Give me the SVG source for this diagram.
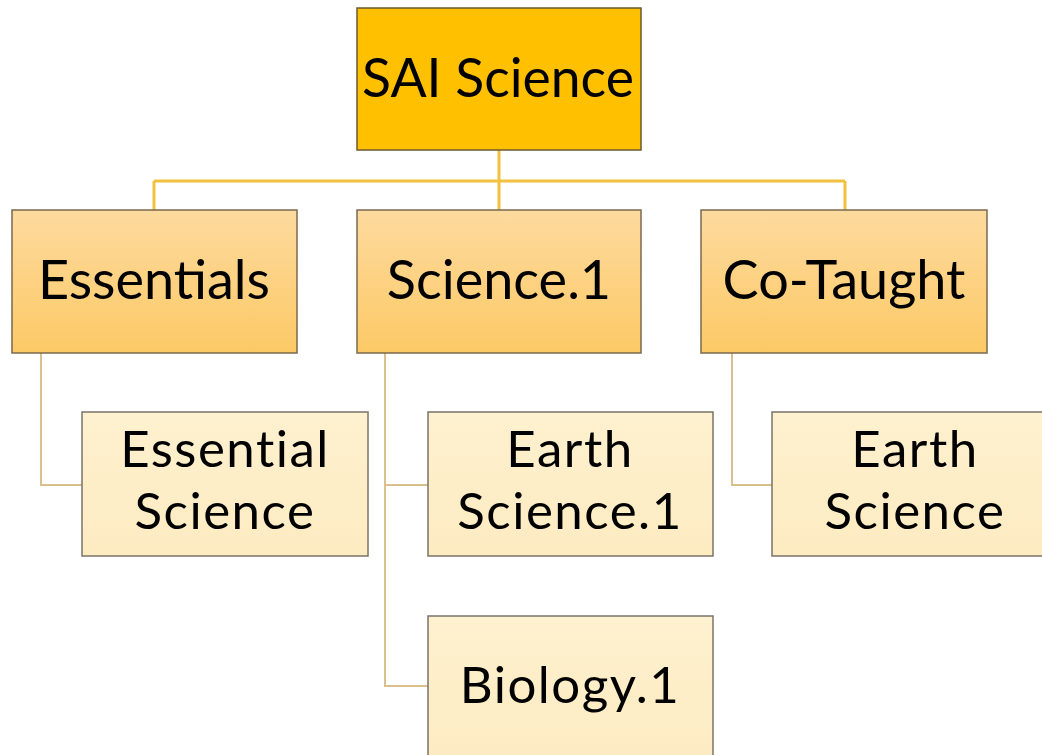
<svg xmlns="http://www.w3.org/2000/svg" width="1042" height="755" viewBox="0 0 1042 755">
<defs>
<linearGradient id="g1" x1="0" y1="0" x2="0" y2="1">
<stop offset="0" stop-color="#FDDA9E"/>
<stop offset="1" stop-color="#FCC965"/>
</linearGradient>
<linearGradient id="g2" x1="0" y1="0" x2="0" y2="1">
<stop offset="0" stop-color="#FEF1CF"/>
<stop offset="1" stop-color="#FDEBC1"/>
</linearGradient>
</defs>
<style>
.root{fill:#FFC000;stroke:#6B5A2E;stroke-width:1.5}
.l1{fill:url(#g1);stroke:#7A6A50;stroke-width:1.5}
.l2{fill:url(#g2);stroke:#7A7468;stroke-width:1.5}
text{font-family:Lato,"Open Sans",sans-serif;fill:#000;text-anchor:middle}
.t0{font-size:53.5px}
.t1{font-size:54px}
.t2{font-size:51px;letter-spacing:1.5px}
.c1{fill:none;stroke:#F2C13E;stroke-width:3}
.c2{fill:none;stroke:#D9C08C;stroke-width:2}
</style>
<g id="connectors">
<path class="c1" d="M499 150V210M154 181H845M154 181V210M845 181V210"/>
<path class="c2" d="M41 353V485H82"/>
<path class="c2" d="M385 353V686H428M385 485H428"/>
<path class="c2" d="M732 353V485H772"/>
</g>
<g id="sai-science">
<rect class="root" x="357" y="8" width="284" height="142"/>
<text class="t0" x="498" y="97">SAI Science</text>
</g>
<g id="essentials">
<rect class="l1" x="12" y="210" width="285" height="143"/>
<text class="t1" x="154" y="299">Essentials</text>
</g>
<g id="science1">
<rect class="l1" x="357" y="210" width="284" height="143"/>
<text class="t1" x="499" y="299">Science.1</text>
</g>
<g id="co-taught">
<rect class="l1" x="701" y="210" width="286" height="143"/>
<text class="t1" x="844" y="299">Co-Taught</text>
</g>
<g id="essential-science">
<rect class="l2" x="82" y="412" width="286" height="144"/>
<text class="t2" x="225" y="467">Essential<tspan x="225" dy="62">Science</tspan></text>
</g>
<g id="earth-science1">
<rect class="l2" x="428" y="412" width="285" height="144"/>
<text class="t2" x="570" y="467">Earth<tspan x="570" dy="62">Science.1</tspan></text>
</g>
<g id="biology1">
<rect class="l2" x="428" y="616" width="285" height="150"/>
<text class="t2" x="570" y="703">Biology.1</text>
</g>
<g id="earth-science">
<rect class="l2" x="772" y="412" width="286" height="144"/>
<text class="t2" x="915" y="467">Earth<tspan x="915" dy="62">Science</tspan></text>
</g>
</svg>
